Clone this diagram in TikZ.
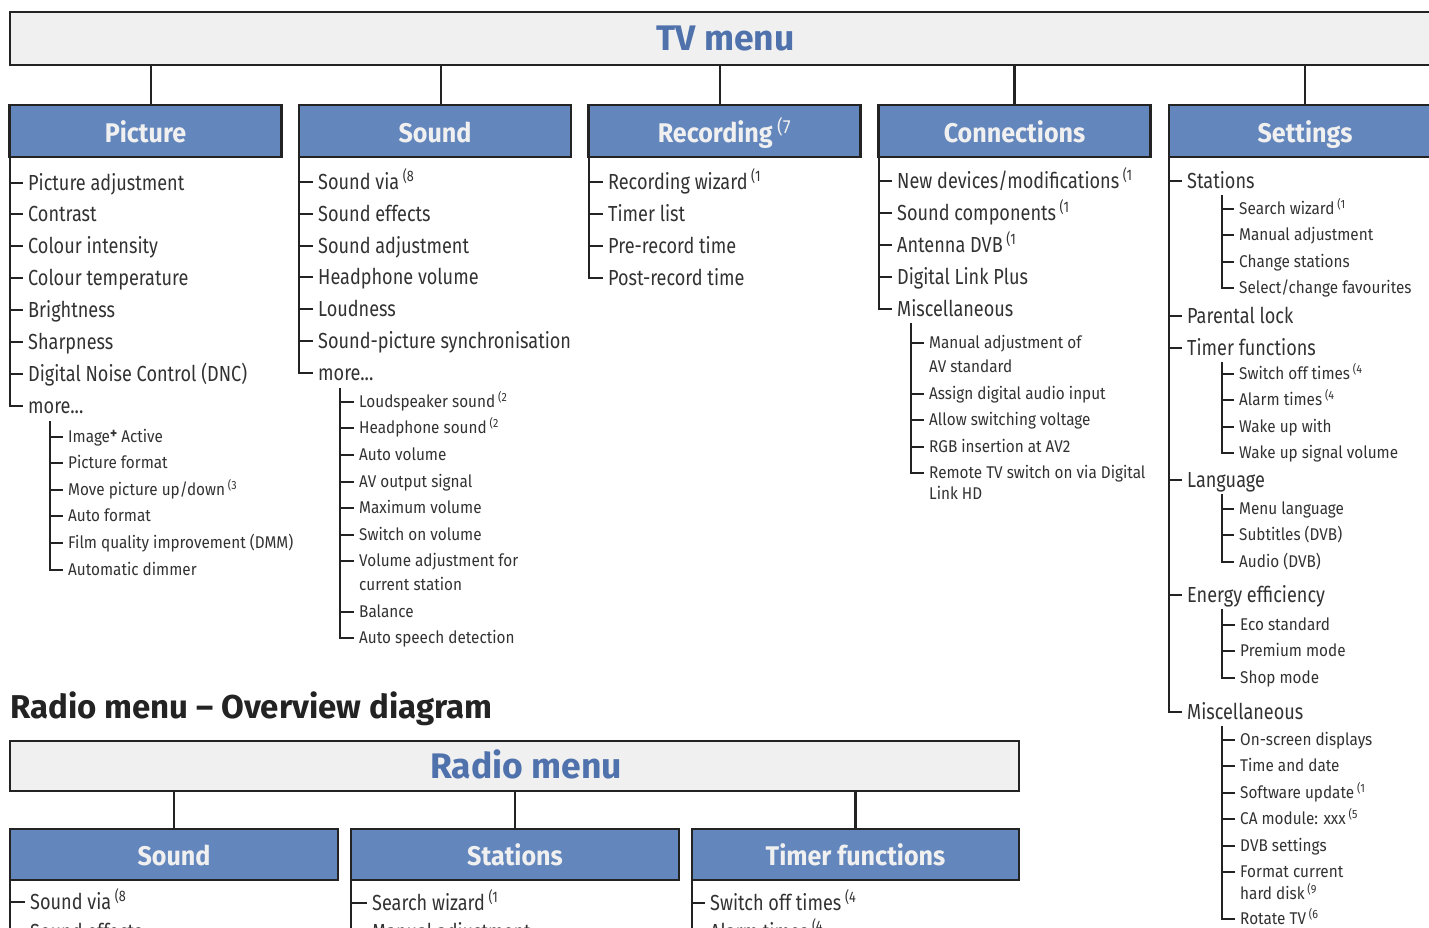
\documentclass[tikz,border=0pt]{standalone}
\usepackage{fontspec}
\setmainfont{Fira Sans}[FakeStretch=0.83]
\newfontfamily\subfont{Fira Sans}[FakeStretch=0.9]
\newfontfamily\headfont{Fira Sans}[FakeStretch=0.93]
\newfontfamily\titlefont{Fira Sans}
\usetikzlibrary{positioning}

\definecolor{menublue}{RGB}{99,134,188}
\definecolor{titleblue}{RGB}{80,114,172}
\definecolor{titlegray}{RGB}{240,240,240}
\definecolor{framegray}{RGB}{35,35,35}
\definecolor{itemgray}{RGB}{50,50,50}

\newcommand{\fnote}[1]{\,\textsuperscript{\mdseries(#1}}

\tikzset{
	menutitle/.style={draw=framegray, line width=2.5pt, fill=titlegray, outer sep=0pt, inner sep=0pt},
	titletext/.style={text=titleblue, inner sep=0pt, font=\titlefont\fontsize{35.5}{38}\selectfont\bfseries, text height=24pt, text depth=0pt},
	menuhead/.style={draw=framegray, line width=2.5pt, fill=menublue, outer sep=0pt, inner sep=0pt, text=titlegray, font=\headfont\fontsize{27}{30}\selectfont\bfseries, text height=22.7pt, text depth=0pt},
	mainitem/.style={anchor=west, inner xsep=5pt, inner ysep=0pt, text=itemgray, font=\fontsize{21.8}{24}\selectfont, text height=15pt, text depth=0pt},
	subitem/.style={anchor=west, inner xsep=5pt, inner ysep=0pt, text=itemgray, font=\subfont\fontsize{17}{19}\selectfont, text height=11.7pt, text depth=0pt},
	link/.style={draw=framegray, line width=2.5pt},
	trunk/.style={draw=framegray, line width=2pt},
	twig/.style={draw=framegray, line width=1.4pt},
}

\begin{document}
\begin{tikzpicture}[x=1pt, y=-1pt]
	\useasboundingbox (0,0) rectangle (1429,928);
	\clip (0,0) rectangle (1429,928);
	% TV MENU
	\node[menutitle, titletext, minimum width=1431pt, minimum height=53pt] (tvmenu) at (725.5,38.5) {TV menu};
	\node[menuhead, minimum width=272pt, minimum height=52pt] (picture) at (145.5,131) {Picture};
	\node[menuhead, minimum width=272pt, minimum height=52pt] (sound) at (435,131) {Sound};
	\node[menuhead, minimum width=272pt, minimum height=52pt] (recording) at (724.5,131) {Recording\fnote{7}};
	\node[menuhead, minimum width=272pt, minimum height=52pt] (connections) at (1014.5,131) {Connections};
	\node[menuhead, minimum width=272pt, minimum height=52pt] (settings) at (1305,131) {Settings};
	\draw[link] ([xshift=5.5pt]picture.north) -- ([xshift=5.5pt]picture.north |- tvmenu.south);
	\draw[link] ([xshift=6pt]sound.north) -- ([xshift=6pt]sound.north |- tvmenu.south);
	\draw[link] ([xshift=-4.5pt]recording.north) -- ([xshift=-4.5pt]recording.north |- tvmenu.south);
	\draw[link] (connections.north) -- (connections.north |- tvmenu.south);
	\draw[link] (settings.north) -- (settings.north |- tvmenu.south);

	% PICTURE
	\node[mainitem] (pic1) at (23,183) {Picture adjustment};
	\node[mainitem] (pic2) at (23,214) {Contrast};
	\node[mainitem] (pic3) at (23,246) {Colour intensity};
	\node[mainitem] (pic4) at (23,278) {Colour temperature};
	\node[mainitem] (pic5) at (23,310) {Brightness};
	\node[mainitem] (pic6) at (23,342) {Sharpness};
	\node[mainitem] (pic7) at (23,374) {Digital Noise Control (DNC)};
	\node[mainitem] (pic8) at (23,406) {more...};
	\draw[trunk] (picture.south west) |- (pic8.west);
	\foreach \n in {1,...,7} \draw[trunk] (pic\n.west -| picture.south west) -- (pic\n.west);
	\coordinate (picmtop) at (50,421);
	\node[subitem] (picm1) at (63,437) {Image\raisebox{4pt}{\fontsize{15}{15}\selectfont\bfseries +} Active};
	\node[subitem] (picm2) at (63,463) {Picture format};
	\node[subitem] (picm3) at (63,490) {Move picture up/down\fnote{3}};
	\node[subitem] (picm4) at (63,516) {Auto format};
	\node[subitem] (picm5) at (63,543) {Film quality improvement (DMM)};
	\node[subitem] (picm6) at (63,570) {Automatic dimmer};
	\draw[twig] (picmtop) |- (picm6.west);
	\foreach \n in {1,...,5} \draw[twig] (picm\n.west -| picmtop) -- (picm\n.west);

	% SOUND
	\node[mainitem] (snd1) at (313,182) {Sound via\fnote{8}};
	\node[mainitem] (snd2) at (313,214) {Sound effects};
	\node[mainitem] (snd3) at (313,246) {Sound adjustment};
	\node[mainitem] (snd4) at (313,277) {Headphone volume};
	\node[mainitem] (snd5) at (313,309) {Loudness};
	\node[mainitem] (snd6) at (313,341) {Sound-picture synchronisation};
	\node[mainitem] (snd7) at (313,373) {more...};
	\draw[trunk] (sound.south west) |- (snd7.west);
	\foreach \n in {1,...,6} \draw[trunk] (snd\n.west -| sound.south west) -- (snd\n.west);
	\coordinate (sndmtop) at (340,388);
	\node[subitem] (sndm1) at (354,402) {Loudspeaker sound\fnote{2}};
	\node[subitem] (sndm2) at (354,428) {Headphone sound\fnote{2}};
	\node[subitem] (sndm3) at (354,455) {Auto volume};
	\node[subitem] (sndm4) at (354,482) {AV output signal};
	\node[subitem] (sndm5) at (354,508) {Maximum volume};
	\node[subitem] (sndm6) at (354,535) {Switch on volume};
	\node[subitem] (sndm7) at (354,561) {Volume adjustment for};
	\node[subitem] (sndm7b) at (354,585) {current station};
	\node[subitem] (sndm8) at (354,612) {Balance};
	\node[subitem] (sndm9) at (354,638) {Auto speech detection};
	\draw[twig] (sndmtop) |- (sndm9.west);
	\foreach \n in {1,...,8} \draw[twig] (sndm\n.west -| sndmtop) -- (sndm\n.west);

	% RECORDING
	\node[mainitem] (rec1) at (603,182) {Recording wizard\fnote{1}};
	\node[mainitem] (rec2) at (603,214) {Timer list};
	\node[mainitem] (rec3) at (603,246) {Pre-record time};
	\node[mainitem] (rec4) at (603,278) {Post-record time};
	\draw[trunk] (recording.south west) |- (rec4.west);
	\foreach \n in {1,...,3} \draw[trunk] (rec\n.west -| recording.south west) -- (rec\n.west);

	% CONNECTIONS
	\node[mainitem] (con1) at (892,181) {New devices/modifications\fnote{1}};
	\node[mainitem] (con2) at (892,213) {Sound components\fnote{1}};
	\node[mainitem] (con3) at (892,245) {Antenna DVB\fnote{1}};
	\node[mainitem] (con4) at (892,277) {Digital Link Plus};
	\node[mainitem] (con5) at (892,309) {Miscellaneous};
	\draw[trunk] (connections.south west) |- (con5.west);
	\foreach \n in {1,...,4} \draw[trunk] (con\n.west -| connections.south west) -- (con\n.west);
	\coordinate (conmtop) at (911,323);
	\node[subitem] (conm1) at (924,343) {Manual adjustment of};
	\node[subitem] (conm1b) at (924,367) {AV standard};
	\node[subitem] (conm2) at (924,394) {Assign digital audio input};
	\node[subitem] (conm3) at (924,420) {Allow switching voltage};
	\node[subitem] (conm4) at (924,447) {RGB insertion at AV2};
	\node[subitem] (conm5) at (924,473) {Remote TV switch on via Digital};
	\node[subitem] (conm5b) at (924,494) {Link HD};
	\draw[twig] (conmtop) |- (conm5.west);
	\foreach \n in {1,...,4} \draw[twig] (conm\n.west -| conmtop) -- (conm\n.west);

	% SETTINGS
	\node[mainitem] (set1) at (1182,181) {Stations};
	\node[mainitem] (set2) at (1182,316) {Parental lock};
	\node[mainitem] (set3) at (1182,348) {Timer functions};
	\node[mainitem] (set4) at (1182,480) {Language};
	\node[mainitem] (set5) at (1182,595) {Energy efficiency};
	\node[mainitem] (set6) at (1182,712) {Miscellaneous};
	\draw[trunk] (settings.south west) |- (set6.west);
	\foreach \n in {1,...,5} \draw[trunk] (set\n.west -| settings.south west) -- (set\n.west);
	% stations
	\coordinate (statop) at (1222,195);
	\node[subitem] (sta1) at (1234,209) {Search wizard\fnote{1}};
	\node[subitem] (sta2) at (1234,235) {Manual adjustment};
	\node[subitem] (sta3) at (1234,262) {Change stations};
	\node[subitem] (sta4) at (1234,288) {Select/change favourites};
	\draw[twig] (statop) |- (sta4.west);
	\foreach \n in {1,...,3} \draw[twig] (sta\n.west -| statop) -- (sta\n.west);
	% timer functions
	\coordinate (timtop) at (1222,362);
	\node[subitem] (tim1) at (1234,374) {Switch off times\fnote{4}};
	\node[subitem] (tim2) at (1234,400) {Alarm times\fnote{4}};
	\node[subitem] (tim3) at (1234,427) {Wake up with};
	\node[subitem] (tim4) at (1234,453) {Wake up signal volume};
	\draw[twig] (timtop) |- (tim4.west);
	\foreach \n in {1,...,3} \draw[twig] (tim\n.west -| timtop) -- (tim\n.west);
	% language
	\coordinate (lantop) at (1222,494);
	\node[subitem] (lan1) at (1234,509) {Menu language};
	\node[subitem] (lan2) at (1234,535) {Subtitles (DVB)};
	\node[subitem] (lan3) at (1234,562) {Audio (DVB)};
	\draw[twig] (lantop) |- (lan3.west);
	\foreach \n in {1,2} \draw[twig] (lan\n.west -| lantop) -- (lan\n.west);
	% energy efficiency
	\coordinate (enetop) at (1222,609);
	\node[subitem] (ene1) at (1235,625) {Eco standard};
	\node[subitem] (ene2) at (1235,651) {Premium mode};
	\node[subitem] (ene3) at (1235,678) {Shop mode};
	\draw[twig] (enetop) |- (ene3.west);
	\foreach \n in {1,2} \draw[twig] (ene\n.west -| enetop) -- (ene\n.west);
	% miscellaneous
	\coordinate (mistop) at (1222,726);
	\node[subitem] (mis1) at (1235,740) {On-screen displays};
	\node[subitem] (mis2) at (1235,766) {Time and date};
	\node[subitem] (mis3) at (1235,793) {Software update\fnote{1}};
	\node[subitem] (mis4) at (1235,819) {CA module: xxx\fnote{5}};
	\node[subitem] (mis5) at (1235,846) {DVB settings};
	\node[subitem] (mis6) at (1235,872) {Format current};
	\node[subitem] (mis6b) at (1235,894) {hard disk\fnote{9}};
	\node[subitem] (mis7) at (1235,919) {Rotate TV\fnote{6}};
	\draw[twig] (mistop) |- (mis7.west);
	\foreach \n in {1,...,6} \draw[twig] (mis\n.west -| mistop) -- (mis\n.west);

	% RADIO MENU
	\node[anchor=west, inner sep=0pt, text=framegray, font=\titlefont\fontsize{33}{36}\selectfont\bfseries, text height=23pt, text depth=0pt] (radiohead) at (10,707) {Radio menu – Overview diagram};
	\node[menutitle, minimum width=1009pt, minimum height=50pt] (radiomenu) at (514.5,766) {};
	\node[titletext] (radiolabel) at (526,766) {Radio menu};
	\node[menuhead, minimum width=328pt, minimum height=51pt] (rsound) at (174,854.5) {Sound};
	\node[menuhead, minimum width=328pt, minimum height=51pt] (rstations) at (515,854.5) {Stations};
	\node[menuhead, minimum width=327pt, minimum height=51pt] (rtimer) at (855.5,854.5) {Timer functions};
	\draw[link] (rsound.north) -- (rsound.north |- radiomenu.south);
	\draw[link] (rstations.north) -- (rstations.north |- radiomenu.south);
	\draw[link] (rtimer.north) -- (rtimer.north |- radiomenu.south);
	\node[mainitem] (rsnd1) at (25,902) {Sound via\fnote{8}};
	\node[mainitem] (rsnd2) at (25,932) {Sound effects};
	\node[mainitem] (rsta1) at (367,903) {Search wizard\fnote{1}};
	\node[mainitem] (rsta2) at (367,932) {Manual adjustment};
	\node[mainitem] (rtim1) at (705,903) {Switch off times\fnote{4}};
	\node[mainitem] (rtim2) at (705,932) {Alarm times\fnote{4}};
	\draw[trunk] (rsound.south west) -- (rsnd2.west -| rsound.south west);
	\draw[trunk] (rstations.south west) -- (rsta2.west -| rstations.south west);
	\draw[trunk] (rtimer.south west) -- (rtim2.west -| rtimer.south west);
	\foreach \n in {1,2} \draw[trunk] (rsnd\n.west -| rsound.south west) -- (rsnd\n.west);
	\foreach \n in {1,2} \draw[trunk] (rsta\n.west -| rstations.south west) -- (rsta\n.west);
	\foreach \n in {1,2} \draw[trunk] (rtim\n.west -| rtimer.south west) -- (rtim\n.west);
\end{tikzpicture}
\end{document}
